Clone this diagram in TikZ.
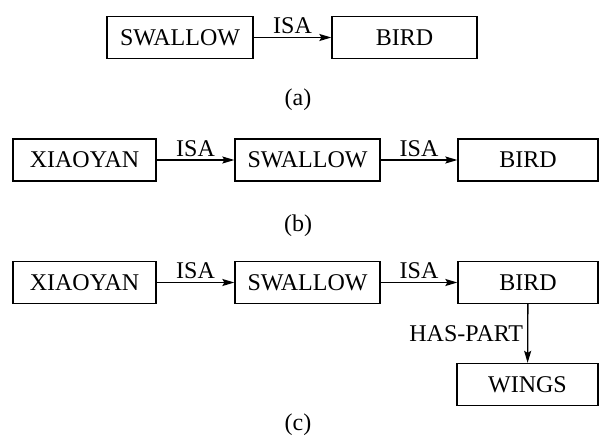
\documentclass[tikz,border=0pt]{standalone}
\usepackage{fontspec}
\setmainfont{Liberation Serif}
\usetikzlibrary{arrows.meta}
\begin{document}
\begin{tikzpicture}[x=1pt,y=-1pt,
  font=\fontsize{24}{28}\selectfont,
  concept/.style={draw,line width=1.3pt,inner sep=0pt,minimum height=42pt},
  link/.style={line width=1.3pt,-{Stealth[length=12pt,width=7pt,inset=2pt]}},
  rel/.style={inner sep=0pt,above=3pt},
  caption/.style={inner sep=0pt}]
\useasboundingbox (0,0) rectangle (600,439);

% (a) one ISA link
\node[concept,minimum width=146pt] (a1) at (180,37.5) {SWALLOW};
\node[concept,minimum width=145pt] (a2) at (404.5,37.5) {BIRD};
\draw[link] (a1) -- node[rel] {ISA} (a2);
\node[caption] (ca) at (298,100) {(a)};

% (b) chain of two ISA links
\node[concept,minimum width=143pt] (b1) at (84.5,160) {XIAOYAN};
\node[concept,minimum width=145pt] (b2) at (307.5,160) {SWALLOW};
\node[concept,minimum width=140pt] (b3) at (528,160) {BIRD};
\draw[link] (b1) -- node[rel] {ISA} (b2);
\draw[link] (b2) -- node[rel] {ISA} (b3);
\node[caption] (cb) at (298,226) {(b)};

% (c) chain with a part-of link
\node[concept,minimum width=143pt] (c1) at (84.5,282.5) {XIAOYAN};
\node[concept,minimum width=145pt] (c2) at (307.5,282.5) {SWALLOW};
\node[concept,minimum width=140pt] (c3) at (528,282.5) {BIRD};
\node[concept,minimum width=141pt] (c4) at (527.5,384.5) {WINGS};
\draw[link] (c1) -- node[rel] {ISA} (c2);
\draw[link] (c2) -- node[rel] {ISA} (c3);
\draw[link] (c3) -- node[inner sep=0pt,left=4pt] {HAS-PART} (c4);
\node[caption] (cc) at (298,425) {(c)};
\end{tikzpicture}
\end{document}
